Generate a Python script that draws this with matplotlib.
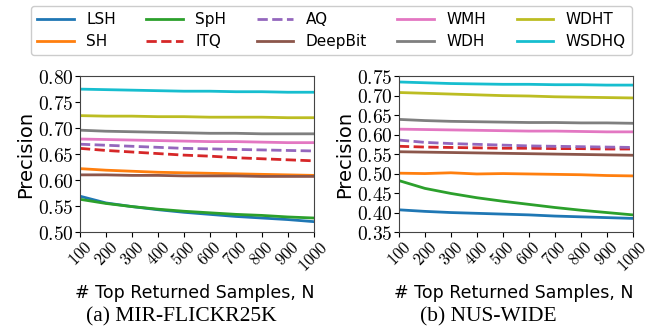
import matplotlib
matplotlib.use("Agg")
import matplotlib.pyplot as plt
from matplotlib.ticker import FormatStrFormatter, FixedLocator

plt.rcParams['mathtext.fontset'] = 'cm'
plt.rcParams['font.family'] = 'DejaVu Sans'

n_returned = [100, 200, 300, 400, 500, 600, 700, 800, 900, 1000]
methods = ["LSH", "SH", "SpH", "ITQ", "AQ", "DeepBit", "WMH", "WDH", "WDHT", "WSDHQ"]
colors = ["tab:blue", "tab:orange", "tab:green", "tab:red", "tab:purple",
          "tab:brown", "tab:pink", "tab:gray", "tab:olive", "tab:cyan"]
styles = ["-", "-", "-", "--", "--", "-", "-", "-", "-", "-"]

# MIR-FLICKR25K
flickr = {
    "LSH":     [0.569, 0.556, 0.549, 0.543, 0.538, 0.534, 0.530, 0.527, 0.524, 0.520],
    "SH":      [0.622, 0.619, 0.617, 0.615, 0.614, 0.613, 0.612, 0.611, 0.610, 0.609],
    "SpH":     [0.563, 0.555, 0.549, 0.544, 0.540, 0.537, 0.534, 0.532, 0.529, 0.527],
    "ITQ":     [0.661, 0.657, 0.654, 0.651, 0.648, 0.646, 0.643, 0.641, 0.639, 0.637],
    "AQ":      [0.669, 0.667, 0.665, 0.663, 0.661, 0.660, 0.659, 0.658, 0.657, 0.656],
    "DeepBit": [0.610, 0.610, 0.609, 0.609, 0.608, 0.608, 0.608, 0.607, 0.607, 0.607],
    "WMH":     [0.679, 0.678, 0.677, 0.676, 0.675, 0.674, 0.674, 0.673, 0.672, 0.672],
    "WDH":     [0.696, 0.694, 0.693, 0.692, 0.691, 0.690, 0.690, 0.689, 0.689, 0.689],
    "WDHT":    [0.724, 0.723, 0.723, 0.722, 0.722, 0.721, 0.721, 0.721, 0.720, 0.720],
    "WSDHQ":   [0.775, 0.774, 0.773, 0.772, 0.771, 0.771, 0.770, 0.770, 0.769, 0.769],
}

# NUS-WIDE
nus = {
    "LSH":     [0.407, 0.403, 0.400, 0.398, 0.396, 0.394, 0.391, 0.389, 0.387, 0.385],
    "SH":      [0.501, 0.500, 0.502, 0.499, 0.500, 0.499, 0.498, 0.497, 0.495, 0.494],
    "SpH":     [0.482, 0.462, 0.449, 0.438, 0.429, 0.421, 0.413, 0.406, 0.400, 0.394],
    "ITQ":     [0.570, 0.568, 0.567, 0.566, 0.565, 0.565, 0.564, 0.564, 0.563, 0.563],
    "AQ":      [0.586, 0.580, 0.577, 0.575, 0.573, 0.571, 0.570, 0.569, 0.568, 0.567],
    "DeepBit": [0.556, 0.555, 0.554, 0.553, 0.552, 0.551, 0.550, 0.549, 0.548, 0.547],
    "WMH":     [0.614, 0.613, 0.612, 0.611, 0.610, 0.609, 0.609, 0.608, 0.607, 0.607],
    "WDH":     [0.639, 0.636, 0.634, 0.633, 0.632, 0.631, 0.631, 0.630, 0.630, 0.629],
    "WDHT":    [0.708, 0.706, 0.704, 0.702, 0.700, 0.699, 0.697, 0.696, 0.695, 0.694],
    "WSDHQ":   [0.735, 0.733, 0.731, 0.730, 0.729, 0.729, 0.728, 0.728, 0.727, 0.727],
}

fig = plt.figure(figsize=(6.55, 3.31), dpi=100)
ax1 = fig.add_axes([0.122, 0.299, 0.357, 0.471])
ax2 = fig.add_axes([0.609, 0.299, 0.357, 0.471])

for ax, data, ylim in [(ax1, flickr, (0.50, 0.80)), (ax2, nus, (0.35, 0.75))]:
    for m, c, s in zip(methods, colors, styles):
        ax.plot(n_returned, data[m], color=c, linestyle=s, linewidth=2.0, label=m)
    ax.set_xlim(100, 1000)
    ax.set_ylim(*ylim)
    ax.xaxis.set_major_locator(FixedLocator(n_returned))
    nt = int(round((ylim[1] - ylim[0]) / 0.05)) + 1
    ax.yaxis.set_major_locator(FixedLocator([round(ylim[0] + 0.05 * i, 2) for i in range(nt)]))
    ax.xaxis.set_major_formatter(FormatStrFormatter(r'$%d$'))
    ax.yaxis.set_major_formatter(FormatStrFormatter(r'$%.2f$'))
    ax.tick_params(axis='x', labelsize=12, labelrotation=45, pad=1)
    ax.tick_params(axis='y', labelsize=14, pad=1)
    ax.set_ylabel("Precision", fontsize=14, labelpad=2)
    for sp in ax.spines.values():
        sp.set_color("#444444")

fig.text(0.298, 0.115, "# Top Returned Samples, N", ha='center', va='center', fontsize=12.5)
fig.text(0.785, 0.115, "# Top Returned Samples, N", ha='center', va='center', fontsize=12.5)
fig.text(0.277, 0.042, "(a) MIR-FLICKR25K", ha='center', va='center', fontsize=15.5, family='Liberation Serif')
fig.text(0.745, 0.042, "(b) NUS-WIDE", ha='center', va='center', fontsize=15.5, family='Liberation Serif')

handles, labels = ax1.get_legend_handles_labels()
fig.legend(handles, labels, ncol=5, loc='upper center', bbox_to_anchor=(0.506, 0.982),
           fontsize=11, frameon=True, handlelength=2.4, handletextpad=0.8,
           columnspacing=2.0, labelspacing=0.45, borderaxespad=0, framealpha=1)

fig.savefig("out.png", dpi=100)
